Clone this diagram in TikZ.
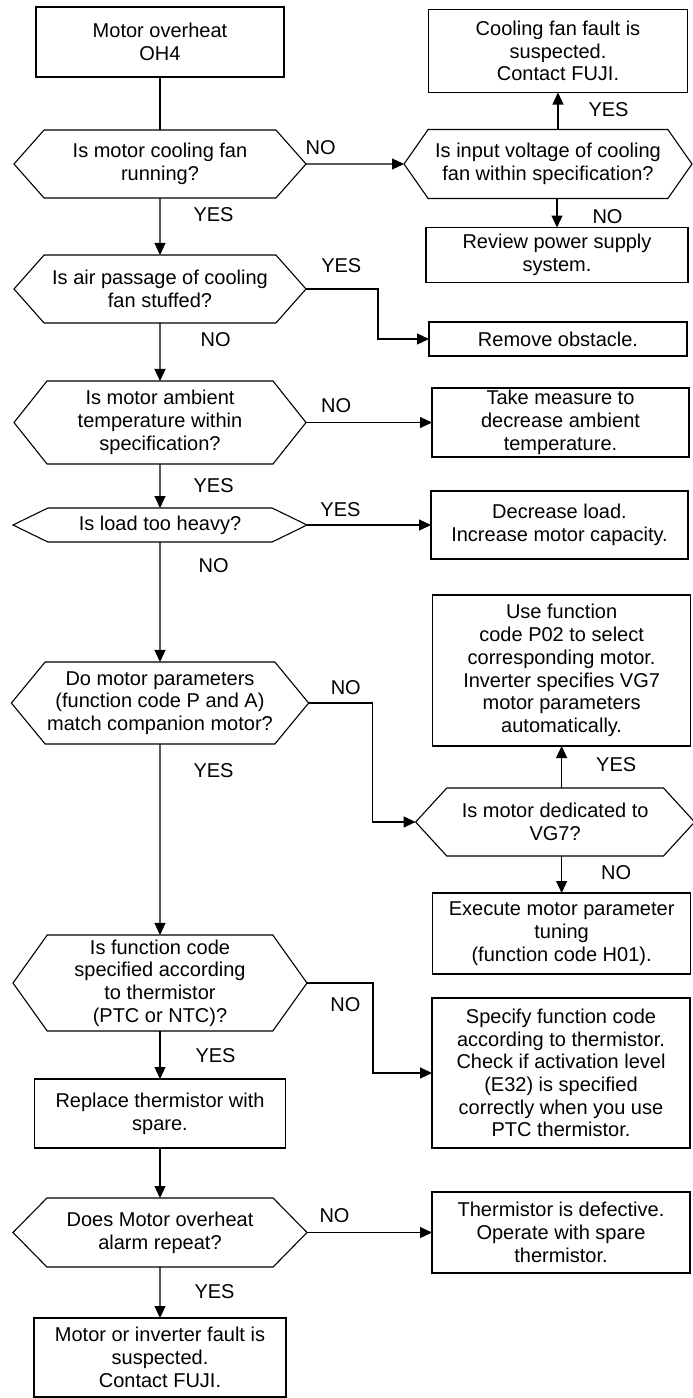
\documentclass[tikz,border=0pt]{standalone}
\usepackage{fontspec}
\setmainfont{Liberation Sans}
\usepackage{tikz}
\usetikzlibrary{
  arrows.meta,
  shapes.symbols,
  positioning
}
\newcommand{\ohfont}{\fontsize{20}{22.7}\selectfont}
\tikzset{
  ohnode/.style={
    draw, line width=1.1pt, align=center, inner sep=2pt, outer sep=0pt, font=\ohfont
  },
  ohbox/.style={ohnode, rectangle, minimum width=258pt},
  ohdec/.style={ohnode, signal, signal to=east and west, signal pointer angle=#1},
  ohflow/.style={-{Triangle[length=12pt, width=11pt]}, line width=1.1pt},
  ohline/.style={line width=1.1pt},
  ohtag/.style={font=\ohfont, inner sep=0pt}
}
\begin{document}
\begin{tikzpicture}[x=1pt, y=-1pt]
  \useasboundingbox (0,0) rectangle (693,1398);
  % main column
  \node[ohbox, minimum width=248pt, minimum height=70pt] (start) at (160,42) {Motor overheat\\OH4};
  \node[ohdec=97, minimum width=292pt, minimum height=68pt, below=53pt of start] (fan) {Is motor cooling fan\\running?};
  \node[ohdec=97, minimum width=292pt, minimum height=68pt, below=57pt of fan] (air) {Is air passage of cooling\\fan stuffed?};
  \node[ohdec=103, minimum width=292pt, minimum height=83pt, below=58pt of air] (ambient) {Is motor ambient\\temperature within\\specification?};
  \node[ohdec=52, minimum width=294pt, minimum height=34pt, below=44pt of ambient] (load) {Is load too heavy?};
  \node[ohdec=101, minimum width=294pt, minimum height=82pt, below=120pt of load] (params) {Do motor parameters\\(function code P and A)\\match companion motor?};
  \node[ohdec=109, minimum width=294pt, minimum height=96pt, below=191pt of params] (thermcode) {Is function code\\specified according\\to thermistor\\(PTC or NTC)?};
  \node[ohbox, minimum width=251pt, minimum height=69pt, below=48pt of thermcode] (replace) {Replace thermistor with\\spare.};
  \node[ohdec=91, minimum width=294pt, minimum height=69pt, below=50pt of replace] (repeat) {Does Motor overheat\\alarm repeat?};
  \node[ohbox, minimum width=252pt, minimum height=79pt, below=51pt of repeat] (fault) {Motor or inverter fault is\\suspected.\\Contact FUJI.};
  % right column
  \node[ohdec=110, minimum width=288pt, minimum height=69pt, right=98pt of fan] (volt) {Is input voltage of cooling\\fan within specification?};
  \node[ohbox, minimum width=259pt, minimum height=83pt, above=37pt of volt, xshift=10pt] (fanfault) {Cooling fan fault is\\suspected.\\Contact FUJI.};
  \node[ohbox, minimum width=262pt, minimum height=55pt, below=29pt of volt, xshift=9pt] (power) {Review power supply\\system.};
  \node[ohbox, minimum height=34pt, right=123pt of air, yshift=-50pt] (obstacle) {Remove obstacle.};
  \node[ohbox, minimum width=257pt, minimum height=69pt, right=126pt of ambient] (measure) {Take measure to\\decrease ambient\\temperature.};
  \node[ohbox, minimum width=257pt, minimum height=68pt, right=124pt of load] (capacity) {Decrease load.\\Increase motor capacity.};
  \node[ohdec=95, minimum width=279pt, minimum height=68pt, right=107pt of params, yshift=-119pt] (dedicated) {Is motor dedicated to\\VG7?};
  \node[ohbox, minimum height=151pt, above=42pt of dedicated, xshift=6.5pt] (usecode) {Use function\\code P02 to select\\corresponding motor.\\Inverter specifies VG7\\motor parameters\\automatically.};
  \node[ohbox, minimum height=81pt, below=37pt of dedicated, xshift=6.5pt] (tuning) {Execute motor parameter\\tuning\\(function code H01).};
  \node[ohbox, minimum height=150pt, right=125pt of thermcode, yshift=-90pt] (specify) {Specify function code\\according to thermistor.\\Check if activation level\\(E32) is specified\\correctly when you use\\PTC thermistor.};
  \node[ohbox, minimum height=81pt, right=125pt of repeat] (defective) {Thermistor is defective.\\Operate with spare\\thermistor.};
  % connectors
  \draw[ohline] (start) -- (fan);
  \draw[ohflow] (fan) -- node[ohtag, pos=0.3, right=33pt]{YES} (air);
  \draw[ohflow] (fan) -- node[ohtag, pos=0.15, above=9pt]{NO} (volt);
  \draw[ohflow] (volt.north -| fanfault.south) -- node[ohtag, pos=0.54, right=30pt]{YES} (fanfault.south);
  \draw[ohflow] (volt.south -| power.north) -- node[ohtag, pos=0.62, right=35pt]{NO} (power.north);
  \draw[ohflow] (air.east) -- node[ohtag, pos=0.49, above=16pt]{YES} ++(72,0) |- (obstacle.west);
  \draw[ohflow] (air) -- node[ohtag, pos=0.29, right=40pt]{NO} (ambient);
  \draw[ohflow] (ambient.east) -- node[ohtag, pos=0.24, above=9pt]{NO} (ambient.east -| measure.west);
  \draw[ohflow] (ambient) -- node[ohtag, pos=0.48, right=33pt]{YES} (load);
  \draw[ohflow] (load.east) -- node[ohtag, pos=0.27, above=8pt]{YES} (load.east -| capacity.west);
  \draw[ohflow] (load) -- node[ohtag, pos=0.2, right=38pt]{NO} (params);
  \draw[ohflow] (params.east) -- node[ohtag, pos=0.58, above=8pt]{NO} ++(64,0) |- (dedicated.west);
  \draw[ohflow] (dedicated.north -| usecode.south) -- node[ohtag, pos=0.55, right=34pt]{YES} (usecode.south);
  \draw[ohflow] (dedicated.south -| tuning.north) -- node[ohtag, pos=0.46, right=39pt]{NO} (tuning.north);
  \draw[ohflow] (params) -- node[ohtag, pos=0.14, right=33pt]{YES} (thermcode);
  \draw[ohflow] (thermcode.east) -- ++(66,0) |- node[ohtag, pos=0.12, left=12pt]{NO} (specify.west);
  \draw[ohflow] (thermcode) -- node[ohtag, pos=0.52, right=35pt]{YES} (replace);
  \draw[ohflow] (replace) -- (repeat);
  \draw[ohflow] (repeat.east) -- node[ohtag, pos=0.22, above=9pt]{NO} (repeat.east -| defective.west);
  \draw[ohflow] (repeat) -- node[ohtag, pos=0.49, right=34pt]{YES} (fault);
\end{tikzpicture}
\end{document}
